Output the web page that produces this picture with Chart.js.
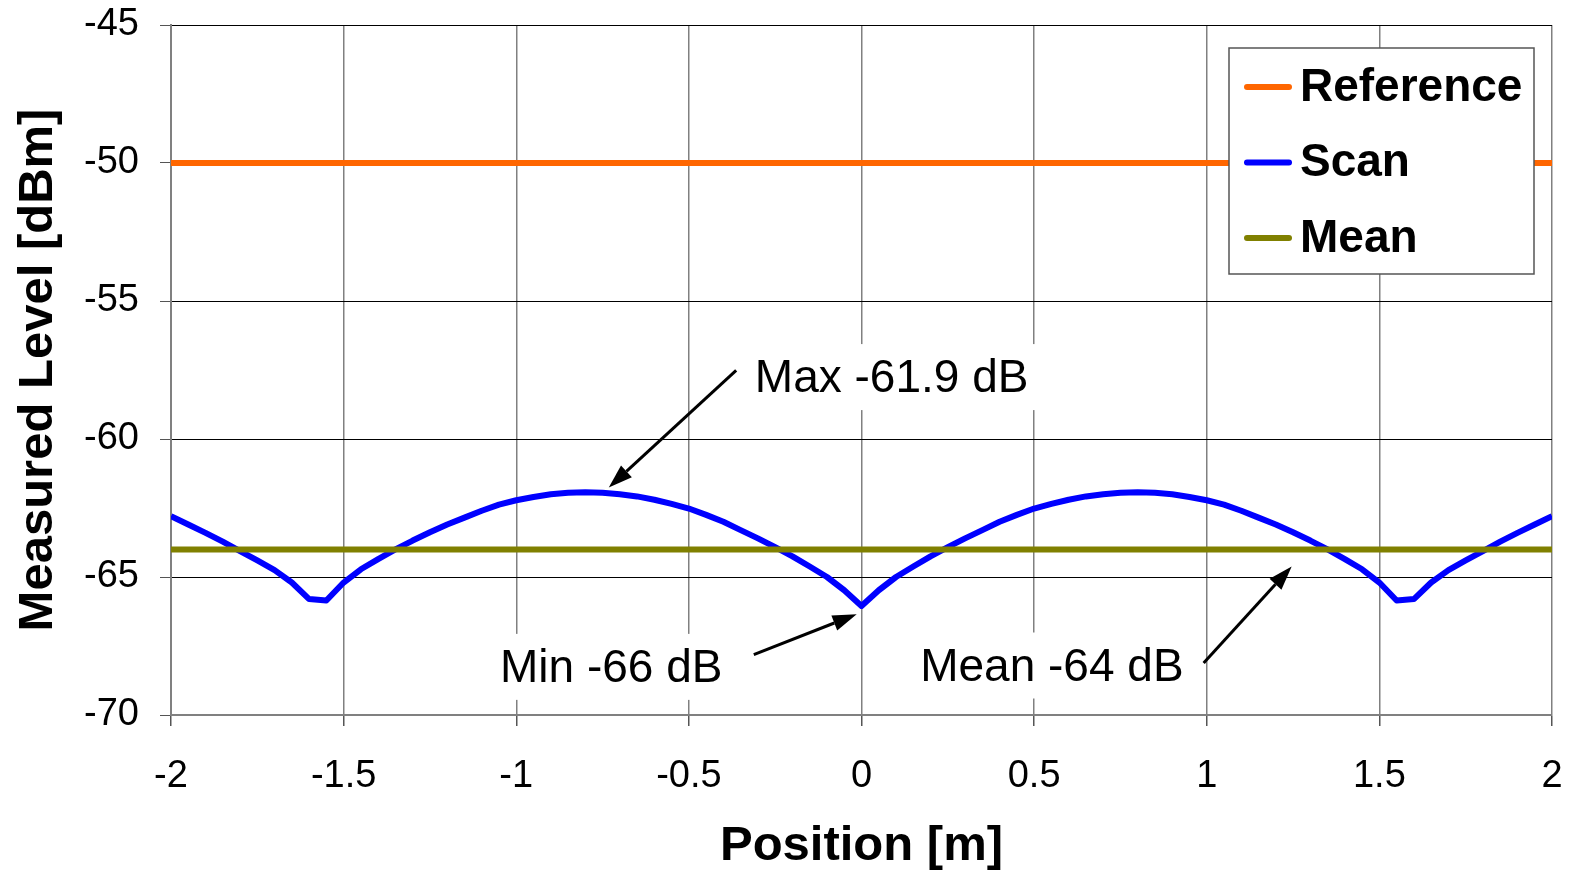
<!DOCTYPE html>
<html>
<head>
<meta charset="utf-8">
<script src="https://cdn.jsdelivr.net/npm/chart.js@4.4.1/dist/chart.umd.min.js"></script>
<style>
  html, body { margin: 0; padding: 0; background: #fff; }
</style>
</head>
<body>
<canvas id="levelChart" width="1574" height="872"></canvas>
<script>
// position along the scan [m]
const positions = [
  -2.00, -1.95, -1.90, -1.85, -1.80, -1.75, -1.70, -1.65, -1.60, -1.55,
  -1.50, -1.45, -1.40, -1.35, -1.30, -1.25, -1.20, -1.15, -1.10, -1.05,
  -1.00, -0.95, -0.90, -0.85, -0.80, -0.75, -0.70, -0.65, -0.60, -0.55,
  -0.50, -0.45, -0.40, -0.35, -0.30, -0.25, -0.20, -0.15, -0.10, -0.05,
   0.00,
   0.05,  0.10,  0.15,  0.20,  0.25,  0.30,  0.35,  0.40,  0.45,  0.50,
   0.55,  0.60,  0.65,  0.70,  0.75,  0.80,  0.85,  0.90,  0.95,  1.00,
   1.05,  1.10,  1.15,  1.20,  1.25,  1.30,  1.35,  1.40,  1.45,  1.50,
   1.55,  1.60,  1.65,  1.70,  1.75,  1.80,  1.85,  1.90,  1.95,  2.00
];

// measured level of the scan [dBm]
const scanLevel = [
  -62.80, -63.10, -63.40, -63.72, -64.06, -64.40, -64.75, -65.20, -65.80, -65.85,
  -65.20, -64.72, -64.35, -64.00, -63.68, -63.38, -63.10, -62.85, -62.60, -62.38,
  -62.22, -62.10, -62.00, -61.95, -61.93, -61.95, -62.00, -62.08, -62.20, -62.35,
  -62.52, -62.75, -63.00, -63.30, -63.60, -63.92, -64.25, -64.62, -65.00, -65.48,
  -66.05,
  -65.48, -65.00, -64.62, -64.25, -63.92, -63.60, -63.30, -63.00, -62.75, -62.52,
  -62.35, -62.20, -62.08, -62.00, -61.95, -61.93, -61.95, -62.00, -62.10, -62.22,
  -62.38, -62.60, -62.85, -63.10, -63.38, -63.68, -64.00, -64.35, -64.72, -65.20,
  -65.85, -65.80, -65.20, -64.75, -64.40, -64.06, -63.72, -63.40, -63.10, -62.80
];

const flatPositions = [-2, 2];
const referenceLevel = [-50, -50];
const meanLevel = [-64, -64];

const xTickLabels = ['-2', '-1.5', '-1', '-0.5', '0', '0.5', '1', '1.5', '2'];
const yTickLabels = ['-70', '-65', '-60', '-55', '-50', '-45'];

const FONT = '"Liberation Sans", Arial, Helvetica, sans-serif';

function toPoints(xs, ys) {
  return xs.map((x, i) => ({ x: x, y: ys[i] }));
}

// callouts, placed in data coordinates
const callouts = [
  { text: 'Max -61.9 dB', x: -0.309, y: -58.30, from: [-0.363, -57.51], to: [-0.732, -61.76] },
  { text: 'Min -66 dB', x: -1.047, y: -68.80, from: [-0.312, -67.81], to: [-0.014, -66.35] },
  { text: 'Mean -64 dB', x: 0.170, y: -68.75, from: [0.991, -68.12], to: [1.246, -64.62] }
];

const calloutPlugin = {
  id: 'callouts',
  beforeDatasetsDraw(chart) {
    const { ctx, scales } = chart;
    ctx.save();
    ctx.font = '46px ' + FONT;
    callouts.forEach(c => {
      const px = scales.x.getPixelForValue(c.x);
      const py = scales.y.getPixelForValue(c.y);
      const w = ctx.measureText(c.text).width;
      ctx.fillStyle = '#fff';
      ctx.fillRect(px - 10, py - 48, w + 22, 66);
    });
    ctx.restore();
  },
  afterDatasetsDraw(chart) {
    const { ctx, scales } = chart;
    ctx.save();
    ctx.font = '46px ' + FONT;
    ctx.fillStyle = '#000';
    ctx.strokeStyle = '#000';
    ctx.textBaseline = 'alphabetic';
    ctx.textAlign = 'left';
    callouts.forEach(c => {
      const px = scales.x.getPixelForValue(c.x);
      const py = scales.y.getPixelForValue(c.y);
      ctx.fillText(c.text, px, py);

      const x0 = scales.x.getPixelForValue(c.from[0]);
      const y0 = scales.y.getPixelForValue(c.from[1]);
      const x1 = scales.x.getPixelForValue(c.to[0]);
      const y1 = scales.y.getPixelForValue(c.to[1]);
      const ang = Math.atan2(y1 - y0, x1 - x0);
      const len = 24, half = 8;
      const bx = x1 - len * Math.cos(ang);
      const by = y1 - len * Math.sin(ang);
      ctx.lineWidth = 3;
      ctx.beginPath();
      ctx.moveTo(x0, y0);
      ctx.lineTo(bx, by);
      ctx.stroke();
      ctx.beginPath();
      ctx.moveTo(x1, y1);
      ctx.lineTo(bx + half * Math.sin(ang), by - half * Math.cos(ang));
      ctx.lineTo(bx - half * Math.sin(ang), by + half * Math.cos(ang));
      ctx.closePath();
      ctx.fill();
    });
    ctx.restore();
  }
};

// boxed legend inside the plot, top right
const boxLegend = {
  id: 'boxLegend',
  afterDatasetsDraw(chart) {
    const { ctx, chartArea } = chart;
    const right = chartArea.right - 18;
    const top = chartArea.top + 23;
    const w = 305, h = 226;
    const left = right - w;
    ctx.save();
    ctx.fillStyle = '#fff';
    ctx.fillRect(left, top, w, h);
    ctx.strokeStyle = '#555';
    ctx.lineWidth = 1.5;
    ctx.strokeRect(left, top, w, h);
    ctx.font = 'bold 46px ' + FONT;
    ctx.textBaseline = 'middle';
    ctx.textAlign = 'left';
    const rows = [0, 1, 2];
    rows.forEach(i => {
      const ds = chart.data.datasets[i];
      const cy = top + 39 + i * 75.5;
      ctx.strokeStyle = ds.borderColor;
      ctx.lineWidth = 6;
      ctx.lineCap = 'round';
      ctx.beginPath();
      ctx.moveTo(left + 18, cy);
      ctx.lineTo(left + 60, cy);
      ctx.stroke();
      ctx.fillStyle = '#000';
      ctx.fillText(ds.label, left + 71, cy + 1);
    });
    ctx.restore();
  }
};

const config = {
  type: 'line',
  data: {
    datasets: [
      {
        label: 'Reference',
        data: toPoints(flatPositions, referenceLevel),
        borderColor: '#FF6600',
        borderWidth: 6,
        pointRadius: 0,
        order: 2
      },
      {
        label: 'Scan',
        data: toPoints(positions, scanLevel),
        borderColor: '#0000FF',
        borderWidth: 6,
        pointRadius: 0,
        tension: 0,
        borderJoinStyle: 'round',
        order: 1
      },
      {
        label: 'Mean',
        data: toPoints(flatPositions, meanLevel),
        borderColor: '#808000',
        borderWidth: 6,
        pointRadius: 0,
        order: 0
      }
    ]
  },
  options: {
    responsive: false,
    animation: false,
    devicePixelRatio: 1,
    layout: {
      padding: { top: 25, right: 22, left: 0, bottom: -4 }
    },
    plugins: {
      legend: { display: false },
      tooltip: { enabled: false }
    },
    scales: {
      x: {
        type: 'linear',
        min: -2,
        max: 2,
        ticks: {
          stepSize: 0.5,
          padding: 28,
          color: '#000',
          autoSkip: false,
          maxRotation: 0,
          font: { family: FONT, size: 38 },
          callback: (v, i) => xTickLabels[i]
        },
        grid: { color: '#808080', lineWidth: 1.5, tickLength: 11, tickColor: '#555' },
        border: { color: '#808080', width: 2 },
        title: {
          display: true,
          text: 'Position [m]',
          color: '#000',
          font: { family: FONT, size: 49, weight: 'bold' },
          padding: { top: 0, bottom: 0 }
        },
        afterFit: s => {
          s.height = 161;
          s.paddingLeft = 0;
          s.paddingRight = 0;
        }
      },
      y: {
        min: -70,
        max: -45,
        ticks: {
          stepSize: 5,
          padding: 21,
          color: '#000',
          font: { family: FONT, size: 38 },
          callback: (v, i) => yTickLabels[i]
        },
        grid: { color: '#000', lineWidth: 1, tickLength: 11, tickColor: '#555' },
        border: { color: '#808080', width: 2 },
        title: {
          display: true,
          text: 'Measured Level [dBm]',
          color: '#000',
          font: { family: FONT, size: 49, weight: 'bold' },
          padding: { top: 9, bottom: 0 }
        },
        afterFit: s => {
          s.width = 171;
          s.paddingTop = 0;
          s.paddingBottom = 0;
        }
      }
    }
  },
  plugins: [calloutPlugin, boxLegend]
};

const ctx = document.getElementById('levelChart').getContext('2d');
new Chart(ctx, config);
</script>
</body>
</html>
